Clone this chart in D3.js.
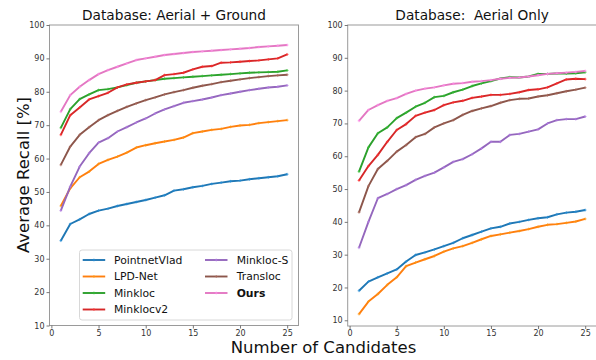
<!DOCTYPE html>
<html><head><meta charset="utf-8">
<script src="https://cdn.jsdelivr.net/npm/d3@7/dist/d3.min.js"></script>
<style>
html,body{margin:0;padding:0;background:#fff;}
text{font-family:"DejaVu Sans",sans-serif;}
</style></head>
<body><svg id="c" width="596" height="360"></svg>
<script>
const candidates = d3.range(1, 26);
const seriesNames = ["PointnetVlad","LPD-Net","Minkloc","Minklocv2","Minkloc-S","Transloc","Ours"];
const seriesColors = ["#1f77b4","#ff7f0e","#2ca02c","#d62728","#9467bd","#8c564b","#e377c2"];
const xTicks = [0,5,10,15,20,25];
const yTicks = [10,20,30,40,50,60,70,80,90,100];

// Database: Aerial + Ground
const ag_pointnetvlad = [35.4,40.4,41.8,43.4,44.4,45.0,45.8,46.4,47.0,47.6,48.3,49.0,50.4,50.8,51.4,51.8,52.4,52.8,53.2,53.4,53.8,54.1,54.4,54.7,55.3];
const ag_lpdnet = [45.8,51.1,54.4,56.1,58.4,59.6,60.6,61.8,63.3,64.0,64.6,65.1,65.6,66.3,67.6,68.1,68.6,68.9,69.5,69.9,70.1,70.6,70.9,71.2,71.5];
const ag_minkloc = [69.2,74.8,77.8,79.2,80.5,80.8,81.3,82.0,82.7,83.1,83.5,83.9,84.1,84.3,84.5,84.7,84.9,85.1,85.3,85.5,85.7,85.8,85.9,86.0,86.4];
const ag_minklocv2 = [67.1,73.0,75.3,77.7,78.7,79.7,81.3,82.2,82.7,83.1,83.5,85.0,85.3,85.7,86.7,87.5,87.7,88.7,88.8,89.0,89.2,89.4,89.7,90.0,91.2];
const ag_minklocs = [44.4,51.6,57.6,61.6,64.8,66.1,68.1,69.4,70.8,72.0,73.5,74.7,75.7,76.7,77.2,77.7,78.3,79.0,79.5,80.0,80.5,80.9,81.3,81.5,81.9];
const ag_transloc = [58.1,63.6,67.1,69.4,71.5,73.0,74.3,75.5,76.5,77.5,78.3,79.2,79.9,80.5,81.2,81.8,82.3,82.9,83.3,83.7,84.1,84.4,84.7,84.9,85.1];
const ag_ours = [74.0,79.0,81.5,83.5,85.3,86.5,87.5,88.5,89.5,90.0,90.5,91.0,91.3,91.6,91.9,92.1,92.3,92.5,92.7,92.9,93.1,93.4,93.6,93.8,94.0];

// Database: Aerial Only
const ao_pointnetvlad = [19.0,21.8,23.1,24.3,25.5,27.9,29.9,30.7,31.6,32.6,33.6,35.0,36.0,37.0,38.0,38.5,39.5,40.0,40.6,41.1,41.4,42.3,42.8,43.1,43.6];
const ao_lpdnet = [11.9,15.7,18.0,20.8,23.1,26.5,27.6,28.6,29.6,30.9,31.9,32.6,33.6,34.7,35.7,36.2,36.7,37.2,37.8,38.5,39.1,39.3,39.7,40.1,40.9];
const ao_minkloc = [55.3,62.7,67.0,68.8,71.6,73.3,75.1,76.3,78.0,78.4,79.5,80.3,81.4,82.2,82.9,83.7,84.1,84.0,84.3,85.1,85.1,85.2,85.2,85.3,85.6];
const ao_minklocv2 = [52.6,57.0,60.4,64.4,68.0,69.8,72.3,73.3,74.1,75.6,76.4,76.9,77.8,78.2,78.7,78.7,79.0,79.5,80.2,80.4,81.0,82.2,83.4,83.6,83.5];
const ao_minklocs = [32.1,40.0,47.2,48.5,50.0,51.2,52.8,54.0,55.0,56.6,58.3,59.1,60.6,62.4,64.4,64.4,66.5,66.8,67.5,68.2,70.0,71.0,71.3,71.3,72.1];
const ao_transloc = [42.9,50.9,56.1,58.6,61.4,63.4,65.8,66.8,68.8,70.0,71.0,72.6,73.8,74.6,75.3,76.3,77.1,77.5,77.6,78.2,78.6,79.2,79.8,80.3,80.9];
const ao_ours = [70.8,74.1,75.6,76.9,77.7,79.0,80.0,80.6,81.0,81.6,82.1,82.3,82.7,82.9,83.2,83.6,83.9,84.0,84.3,84.7,85.1,85.3,85.5,85.7,86.0];

const panels = [
  {title:"Database: Aerial + Ground", x0:49.5, x1:298.5, y0:25, y1:325.5, ymin:10,
   data:[ag_pointnetvlad,ag_lpdnet,ag_minkloc,ag_minklocv2,ag_minklocs,ag_transloc,ag_ours]},
  {title:"Database:  Aerial Only", x0:347.7, x1:596.5, y0:25, y1:326, ymin:8.26,
   data:[ao_pointnetvlad,ao_lpdnet,ao_minkloc,ao_minklocv2,ao_minklocs,ao_transloc,ao_ours]}
];

const svg = d3.select("#c");
svg.append("rect").attr("width",596).attr("height",360).attr("fill","#fff");

panels.forEach(p => {
  const x = d3.scaleLinear().domain([-0.2,26.2]).range([p.x0,p.x1]);
  const y = d3.scaleLinear().domain([p.ymin,100]).range([p.y1,p.y0]);
  const g = svg.append("g");

  const line = d3.line().x((d,i)=>x(candidates[i])).y(d=>y(d));
  p.data.forEach((vals,si) => {
    g.append("path").datum(vals).attr("d",line)
      .attr("fill","none").attr("stroke",seriesColors[si]).attr("stroke-width",1.9)
      .attr("stroke-linejoin","round").attr("stroke-linecap","butt");
    g.selectAll(null).data(vals).enter().append("path")
      .attr("d",(d,i)=>{const cx=x(candidates[i]),cy=y(d);return `M${cx-1.4},${cy}H${cx+1.4}M${cx},${cy-1.4}V${cy+1.4}`;})
      .attr("stroke",d3.color(seriesColors[si]).brighter(0.5)).attr("stroke-width",0.7);
  });

  // spines
  g.append("rect").attr("x",p.x0).attr("y",p.y0).attr("width",p.x1-p.x0).attr("height",p.y1-p.y0)
    .attr("fill","none").attr("stroke","#9a9a9a").attr("stroke-width",1);

  // axes
  const ya = g.append("g").attr("transform",`translate(${p.x0},0)`)
    .call(d3.axisLeft(y).tickValues(yTicks).tickSize(3).tickPadding(2).tickFormat(d3.format("d")));
  const xa = g.append("g").attr("transform",`translate(0,${p.y1})`)
    .call(d3.axisBottom(x).tickValues(xTicks).tickSize(3).tickPadding(1.5).tickFormat(d3.format("d")));
  [ya,xa].forEach(a=>{
    a.select(".domain").remove();
    a.selectAll(".tick line").attr("stroke","#555").attr("stroke-width",0.8);
    a.selectAll(".tick text").attr("fill","#333").style("font-size","8px").style("font-family","DejaVu Sans");
  });

  g.append("text").attr("x",(p.x0+p.x1)/2).attr("y",19.5).attr("text-anchor","middle")
    .attr("xml:space","preserve").style("white-space","pre")
    .style("font-size","13.7px").attr("fill","#111").text(p.title);
});

// axis labels
svg.append("text").attr("transform","translate(29,175) rotate(-90)").attr("text-anchor","middle")
  .style("font-size","16.5px").attr("fill","#111").text("Average Recall [%]");
svg.append("text").attr("x",323.5).attr("y",353).attr("text-anchor","middle")
  .style("font-size","16.5px").attr("fill","#111").text("Number of Candidates");

// legend
const lg = svg.append("g");
lg.append("rect").attr("x",79.5).attr("y",250).attr("width",212.5).attr("height",70).attr("rx",2.5)
  .attr("fill","#fff").attr("fill-opacity",0.85).attr("stroke","#d8d8d8").attr("stroke-width",1);
seriesNames.forEach((name,i) => {
  const col = i<4 ? 0 : 1, row = i<4 ? i : i-4;
  const hx = col===0 ? 82.7 : 205, tx = col===0 ? 114 : 236.7;
  const cy = 260 + row*16.5;
  lg.append("line").attr("x1",hx).attr("x2",hx+22.5).attr("y1",cy).attr("y2",cy)
    .attr("stroke",seriesColors[i]).attr("stroke-width",1.9);
  lg.append("path").attr("d",`M${hx+11.25-1.4},${cy}H${hx+11.25+1.4}M${hx+11.25},${cy-1.4}V${cy+1.4}`)
    .attr("stroke",d3.color(seriesColors[i]).brighter(0.5)).attr("stroke-width",0.7);
  lg.append("text").attr("x",tx).attr("y",cy).attr("dy","0.36em")
    .style("font-size","10.8px").style("font-weight", name==="Ours"?"bold":"normal")
    .attr("fill","#111").text(name);
});
</script></body></html>
